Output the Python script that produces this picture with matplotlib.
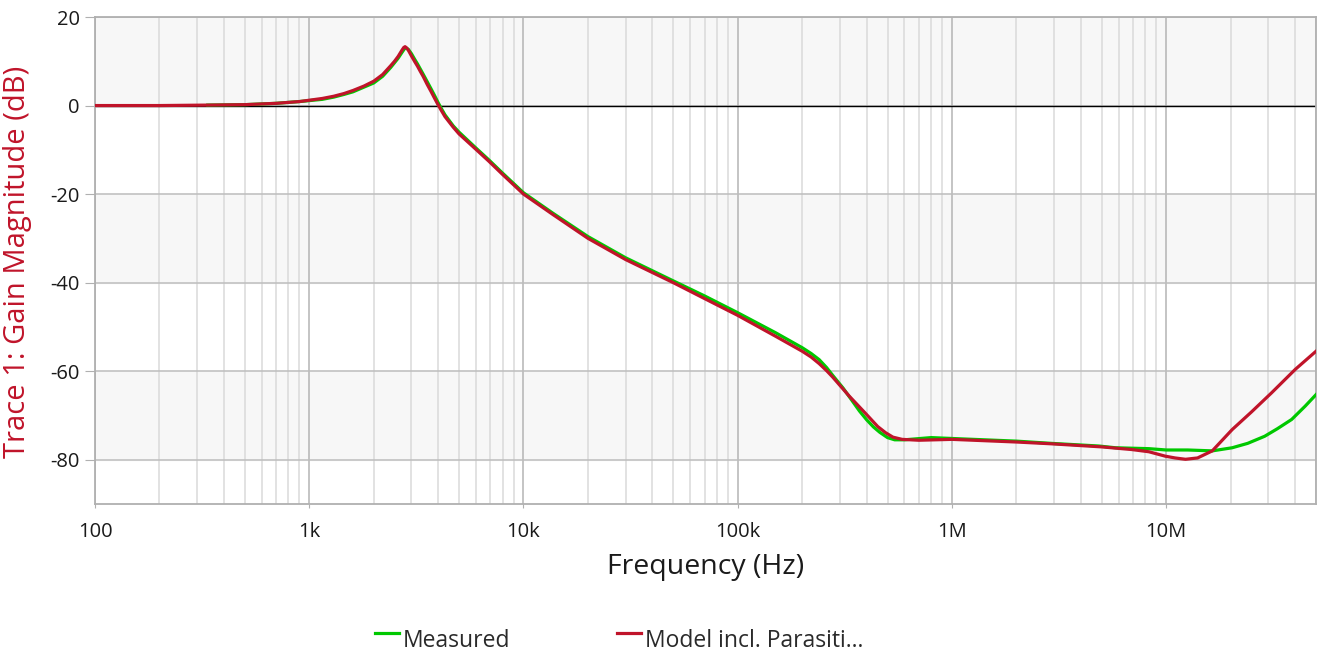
import matplotlib
matplotlib.use("Agg")
import matplotlib.pyplot as plt
from matplotlib.lines import Line2D
from matplotlib.ticker import FixedLocator, LogLocator, NullFormatter

plt.rcParams['font.family'] = ['Open Sans', 'DejaVu Sans']

# model incl. parasitics (red)
model_f = [100, 200, 330, 500, 700, 900, 1.0e3, 1.15e3, 1.3e3, 1.45e3, 1.6e3, 1.8e3,
           2.0e3, 2.2e3, 2.4e3, 2.5e3, 2.6e3, 2.7e3, 2.76e3, 2.8e3, 2.85e3, 2.9e3,
           3.0e3, 3.1e3, 3.2e3, 3.3e3, 3.4e3, 3.55e3, 3.7e3, 3.85e3, 3.97e3, 4.1e3,
           4.3e3, 4.7e3, 5.0e3, 6.0e3, 6.9e3, 8.0e3, 10e3, 13.7e3, 20e3, 30e3, 50e3,
           70e3, 100e3, 150e3, 200e3, 220e3, 240e3, 260e3, 277e3, 331e3, 396e3,
           450e3, 490e3, 530e3, 585e3, 700e3, 1.0e6, 2.0e6, 2.9e6, 5.0e6, 6.9e6,
           8.3e6, 9.9e6, 11e6, 12.3e6, 14e6, 16.4e6, 20.3e6, 25e6, 31e6, 40e6, 50e6]
model_db = [0.0, 0.0, 0.1, 0.2, 0.5, 0.9, 1.2, 1.6, 2.1, 2.7, 3.4, 4.4,
            5.5, 7.0, 9.0, 10.0, 11.1, 12.4, 13.1, 13.3, 13.0, 12.5,
            11.2, 10.0, 8.9, 7.7, 6.6, 4.8, 3.2, 1.6, 0.4, -0.8,
            -2.5, -4.9, -6.4, -9.9, -12.6, -15.6, -20.0, -24.6, -30.0, -34.8, -40.0,
            -43.6, -47.4, -52.1, -55.5, -56.8, -58.3, -59.9, -61.3, -65.6, -69.6,
            -72.5, -73.9, -74.9, -75.4, -75.6, -75.4, -76.0, -76.4, -77.1, -77.7,
            -78.2, -79.2, -79.6, -79.9, -79.6, -78.0, -73.2, -69.2, -64.9, -59.6, -55.5]

# measured (green)
meas_f = [336, 500, 700, 900, 1.15e3, 1.3e3, 1.45e3, 1.6e3, 2.0e3, 2.2e3, 2.4e3,
          2.6e3, 2.7e3, 2.78e3, 2.83e3, 2.9e3, 3.0e3, 3.1e3, 3.2e3, 3.4e3, 3.7e3,
          3.85e3, 4.0e3, 4.15e3, 4.3e3, 4.7e3, 5.0e3, 6.0e3, 6.9e3, 8.0e3, 10e3,
          13.7e3, 20e3, 30e3, 50e3, 70e3, 100e3, 150e3, 200e3, 220e3, 240e3, 260e3,
          277e3, 310e3, 340e3, 370e3, 400e3, 430e3, 460e3, 500e3, 540e3, 600e3,
          800e3, 1.0e6, 2.0e6, 2.9e6, 4.84e6, 5.8e6, 8.3e6, 10e6, 12.6e6, 16.4e6,
          20.3e6, 24e6, 28.8e6, 33e6, 38.5e6, 44.5e6, 50e6]
meas_db = [0.1, 0.2, 0.5, 0.9, 1.4, 1.9, 2.5, 3.1, 5.1, 6.6, 8.6,
           10.7, 11.9, 12.8, 13.0, 12.7, 11.7, 10.5, 9.4, 7.1, 3.8,
           2.2, 0.6, -0.8, -2.1, -4.6, -6.0, -9.6, -12.3, -15.3, -19.7,
           -24.3, -29.6, -34.4, -39.6, -43.0, -46.8, -51.3, -54.7, -56.0, -57.4, -59.2,
           -60.9, -63.8, -66.5, -69.0, -71.0, -72.6, -73.8, -75.0, -75.5, -75.5,
           -75.0, -75.2, -75.8, -76.3, -76.9, -77.3, -77.5, -77.8, -77.8, -78.0,
           -77.3, -76.3, -74.7, -73.0, -70.9, -67.9, -65.3]

x_ticks = [1e2, 1e3, 1e4, 1e5, 1e6, 1e7]
x_labels = ['100', '1k', '10k', '100k', '1M', '10M']
y_ticks = [20, 0, -20, -40, -60, -80]

fig = plt.figure(figsize=(13.27, 6.54), dpi=100)
ax = fig.add_axes([95 / 1327, 1 - 504 / 654, 1221 / 1327, 487 / 654])

ax.set_xscale('log')
ax.set_xlim(100, 50e6)
ax.set_ylim(-90, 20)

# alternating bands
for lo in (0, -40, -80):
    ax.axhspan(lo, lo + 20, color='#f7f7f7', zorder=0)

ax.xaxis.set_major_locator(FixedLocator(x_ticks))
ax.set_xticklabels(x_labels)
ax.xaxis.set_minor_locator(LogLocator(base=10, subs=range(2, 10)))
ax.xaxis.set_minor_formatter(NullFormatter())
ax.set_yticks(y_ticks)
ax.set_yticklabels([str(v) for v in y_ticks])

ax.grid(which='major', axis='x', color='#b4b4b4', lw=1.1, zorder=1)
ax.grid(which='minor', axis='x', color='#dadada', lw=1.1, zorder=1)
ax.grid(which='major', axis='y', color='#bdbdbd', lw=1.1, zorder=1)
ax.set_axisbelow(True)
ax.axhline(0, color='black', lw=1.0, zorder=2)

l_meas, = ax.plot(meas_f, meas_db, color='#00c800', lw=2.3, zorder=3)
l_model, = ax.plot(model_f, model_db, color='#c0142a', lw=2.3, zorder=4)

for s in ax.spines.values():
    s.set_color('#b0b0b0')
    s.set_linewidth(1.3)

ax.tick_params(axis='y', which='major', length=7, color='#b0b0b0', labelsize=14.5,
               labelcolor='#1a1a1a', pad=4)
ax.tick_params(axis='x', which='major', length=3, color='#b0b0b0', labelsize=14.5,
               labelcolor='#1a1a1a', pad=10)
ax.tick_params(axis='x', which='minor', length=0)

ax.set_xlabel('Frequency (Hz)', fontsize=20.5, color='#1a1a1a', labelpad=8)
ax.set_ylabel('Trace 1: Gain Magnitude (dB)', fontsize=21, color='#c0142a')
ax.yaxis.set_label_coords(-0.0516, 0.497)

# legend at the bottom
for line, x0, label in ((l_meas, 375, 'Measured'), (l_model, 617, 'Model incl. Parasiti...')):
    fig.add_artist(Line2D([x0 / 1327, (x0 + 24) / 1327], [1 - 633 / 654] * 2,
                          color=line.get_color(), lw=2.3, transform=fig.transFigure))
    fig.text((x0 + 28) / 1327, 1 - 641 / 654, label, fontsize=16.5, color='#2a2a2a',
             va='center', ha='left')

fig.savefig('out.png', dpi=100)
